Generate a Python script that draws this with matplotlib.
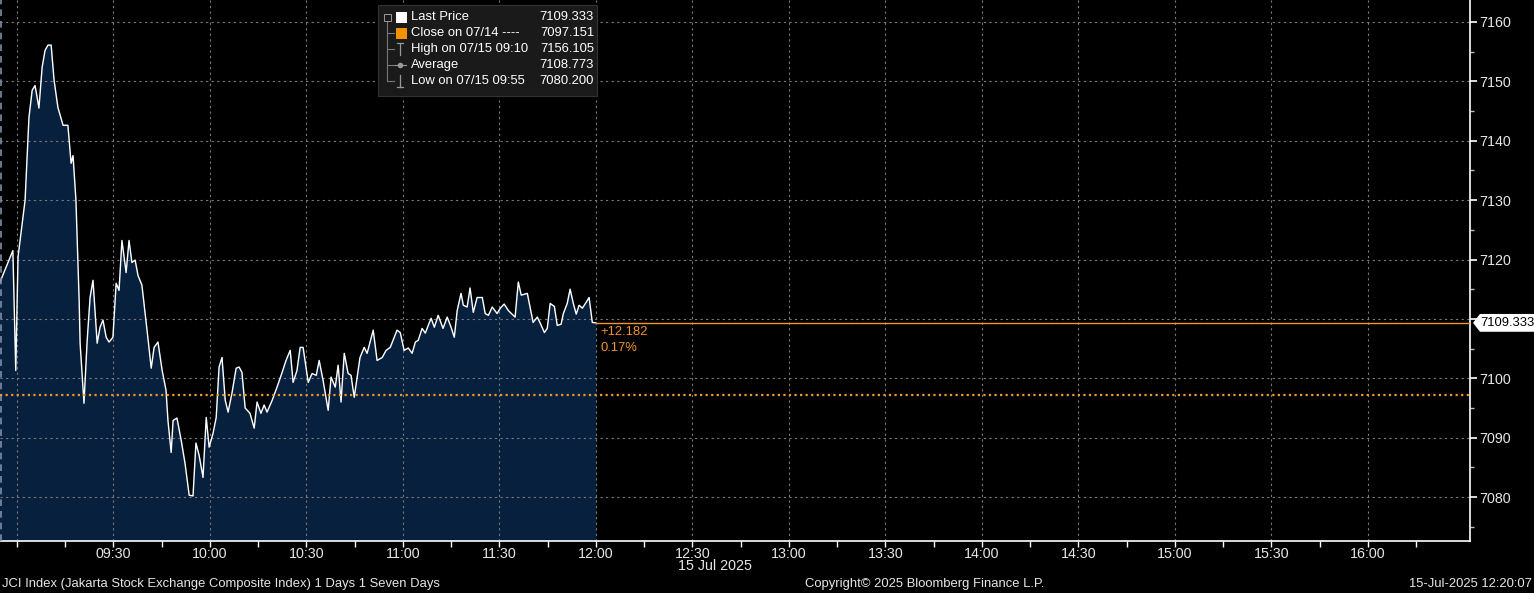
import matplotlib
matplotlib.use("Agg")
import matplotlib.pyplot as plt
from matplotlib.patches import Rectangle, Polygon

plt.rcParams['font.family'] = ['Liberation Sans', 'DejaVu Sans']

# minutes after 09:00 and JCI index level
minutes = [-5.2, -1.2, -0.3, 0.4, 2.6, 3.8, 4.8, 5.7, 6.9, 7.9, 8.8, 9.7, 10.7, 11.6, 12.8,
           14.4, 15.9, 16.9, 17.5, 18.4, 19.4, 19.7, 20.9, 21.9, 22.8, 23.7, 25.0, 25.9, 26.8,
           27.8, 28.7, 29.9, 30.9, 31.8, 32.7, 34.0, 34.9, 35.8, 36.8, 37.7, 38.9, 40.5, 41.8,
           42.7, 43.9, 45.2, 46.4, 47.0, 48.0, 48.6, 49.8, 51.1, 52.3, 53.6, 54.8, 55.7, 56.7,
           57.9, 58.9, 59.8, 61.0, 62.0, 62.9, 63.8, 64.8, 65.7, 66.9, 68.2, 69.1, 70.0, 71.0,
           72.5, 73.8, 74.7, 75.9, 76.9, 77.8, 79.4, 80.9, 82.5, 83.7, 85.0, 85.9, 87.1, 88.1,
           89.0, 90.6, 91.8, 93.1, 94.0, 95.2, 96.8, 97.7, 99.0, 99.9, 100.8, 101.8, 103.0,
           103.9, 104.9, 106.7, 108.0, 108.9, 110.8, 112.0, 113.6, 114.8, 116.1, 118.2, 119.2,
           120.4, 121.7, 122.9, 123.9, 124.8, 126.0, 127.0, 127.9, 128.8, 129.8, 131.0, 132.5,
           133.8, 135.0, 136.0, 136.9, 138.1, 138.8, 140.0, 140.9, 141.9, 143.1, 144.7, 145.6,
           146.6, 147.8, 149.3, 150.3, 151.5, 152.8, 154.9, 155.9, 156.8, 158.7, 160.5, 161.8,
           162.7, 164.0, 164.9, 165.8, 167.1, 168.0, 169.2, 169.9, 171.1, 172.0, 173.0, 173.9,
           174.8, 175.8, 177.0, 177.9, 178.9, 180.0]
prices = [7116.2, 7121.5, 7101.3, 7120.4, 7130.0, 7143.9, 7148.5, 7149.3, 7145.5, 7152.4,
          7155.2, 7156.1, 7156.1, 7150.2, 7145.6, 7142.6, 7142.6, 7136.2, 7137.5, 7130.0,
          7113.1, 7105.9, 7095.8, 7106.4, 7113.6, 7116.5, 7105.9, 7108.6, 7109.8, 7106.9,
          7106.1, 7106.9, 7116.0, 7114.8, 7123.2, 7117.8, 7123.2, 7119.5, 7119.9, 7117.3,
          7115.7, 7108.1, 7101.7, 7105.2, 7106.1, 7101.3, 7098.0, 7092.9, 7087.5, 7092.9,
          7093.3, 7089.6, 7085.7, 7080.3, 7080.2, 7089.1, 7087.0, 7083.3, 7093.4, 7088.4,
          7090.7, 7093.4, 7101.9, 7103.5, 7096.3, 7094.3, 7097.5, 7101.7, 7101.9, 7101.0,
          7095.0, 7094.1, 7091.6, 7096.0, 7094.1, 7095.5, 7094.3, 7096.3, 7098.5, 7101.0,
          7103.0, 7104.7, 7099.3, 7101.3, 7105.2, 7105.2, 7099.3, 7100.8, 7100.5, 7103.0,
          7099.7, 7094.6, 7100.2, 7098.5, 7102.2, 7096.0, 7104.2, 7100.8, 7100.5, 7096.8,
          7103.5, 7105.2, 7104.2, 7108.1, 7103.0, 7103.5, 7104.7, 7105.2, 7108.1, 7107.7,
          7104.7, 7105.1, 7104.2, 7106.1, 7106.4, 7108.4, 7107.6, 7108.9, 7110.1, 7108.6,
          7110.6, 7108.4, 7110.3, 7108.6, 7106.9, 7111.4, 7114.3, 7112.3, 7112.0, 7115.2,
          7111.1, 7113.6, 7113.6, 7110.9, 7110.6, 7112.0, 7110.9, 7111.8, 7112.5, 7111.4,
          7110.3, 7116.2, 7114.0, 7114.3, 7109.4, 7110.3, 7109.3, 7107.7, 7108.4, 7112.6,
          7112.1, 7108.9, 7109.1, 7110.9, 7112.6, 7115.0, 7112.6, 7110.8, 7112.3, 7111.8,
          7112.8, 7113.6, 7109.4, 7109.333]

last_price = 7109.333
prev_close = 7097.151
change = "+12.182"
change_pct = "0.17%"

y_ticks = [7080, 7090, 7100, 7110, 7120, 7130, 7140, 7150, 7160]
y_labels = ["7080", "7090", "7100", "", "7120", "7130", "7140", "7150", "7160"]
x_ticks = [30 * i for i in range(15)]
x_labels = ["", "09:30", "10:00", "10:30", "11:00", "11:30", "12:00", "12:30", "13:00",
            "13:30", "14:00", "14:30", "15:00", "15:30", "16:00"]

legend_rows = [("Last Price", "7109.333"), ("Close on 07/14 ----", "7097.151"),
               ("High on 07/15 09:10", "7156.105"), ("Average", "7108.773"),
               ("Low on 07/15 09:55", "7080.200")]

ORANGE = "#f0962a"
GRID = "#7a7a7a"
FS = 10.3
FS_SMALL = 9.4

fig = plt.figure(figsize=(15.34, 5.93), dpi=100, facecolor="black")
ax = fig.add_axes([0.0, 1 - 541 / 593, 1470 / 1534, 541 / 593])
ax.set_facecolor("black")

x0, x1 = -5.2, 451.7
ax.set_xlim(x0, x1)
ax.set_ylim(7072.6, 7163.7)

ax.fill_between(minutes, prices, 7000, color="#07203d", zorder=1)
ax.plot(minutes, prices, color="white", lw=1.0, zorder=3)

# grid
for yt in y_ticks:
    ax.axhline(yt, color=GRID, lw=0.8, ls=(0, (2, 3)), zorder=2)
for xt in x_ticks:
    ax.axvline(xt, color=GRID, lw=0.8, ls=(0, (2, 3)), zorder=2)
ax.axvline(x0 + 0.3, color="#7d8ea8", lw=1.2, ls=(0, (4, 3)), zorder=4)

# close and last price lines
ax.axhline(prev_close, color=ORANGE, lw=1.6, ls=(0, (1, 1.5)), zorder=4)
ax.plot([minutes[-1], x1], [last_price, last_price], color=ORANGE, lw=1.0, zorder=4)
ax.text(minutes[-1] + 1.5, last_price - 0.6, change, color=ORANGE, fontsize=FS_SMALL, va="top")
ax.text(minutes[-1] + 1.5, last_price - 3.3, change_pct, color=ORANGE, fontsize=FS_SMALL, va="top")

# axes styling
for s in ["left", "top"]:
    ax.spines[s].set_visible(False)
for s in ["right", "bottom"]:
    ax.spines[s].set_color("white")
    ax.spines[s].set_linewidth(1.2)

ax.yaxis.tick_right()
ax.set_yticks(y_ticks)
ax.set_yticklabels(y_labels)
ax.set_yticks([7075 + 10 * i for i in range(9)], minor=True)
ax.tick_params(axis="y", which="major", colors="white", labelcolor="#e6e6e6",
               labelsize=FS, length=5, width=1.2, pad=2)
ax.tick_params(axis="y", which="minor", colors="#bbbbbb", length=3, width=1)

ax.set_xticks(x_ticks)
ax.set_xticklabels(x_labels)
ax.set_xticks([15 + 30 * i for i in range(15)], minor=True)
ax.tick_params(axis="x", which="both", colors="white", labelcolor="#e6e6e6",
               labelsize=FS, length=4, width=1, pad=0)

# last price tag on the right axis
tag_y = last_price
trans = ax.get_yaxis_transform()
tag = Polygon([[1.0 + 3 / 1470, tag_y], [1.0 + 10 / 1470, tag_y + 1.5],
               [1.0 + 64 / 1470, tag_y + 1.5], [1.0 + 64 / 1470, tag_y - 1.5],
               [1.0 + 10 / 1470, tag_y - 1.5]], closed=True, transform=trans,
              facecolor="white", edgecolor="none", clip_on=False, zorder=6)
ax.add_patch(tag)
ax.text(1.0 + 37 / 1470, tag_y, f"{last_price:.3f}", transform=trans, color="black",
        fontsize=FS_SMALL, ha="center", va="center", clip_on=False, zorder=7)

# legend box
lx0, ly0, lw, lh = 378, 5, 219, 91
fig.patches.append(Rectangle((lx0 / 1534, 1 - (ly0 + lh) / 593), lw / 1534, lh / 593,
                             transform=fig.transFigure, facecolor="#1a1a1a",
                             edgecolor="#333333", lw=0.8, zorder=10))
row_y = [17, 33, 49, 65, 81]
for (name, val), ry in zip(legend_rows, row_y):
    fy = 1 - ry / 593
    fig.text(411 / 1534, fy, name, color="white", fontsize=FS_SMALL, va="center", zorder=11)
    fig.text(594 / 1534, fy, val, color="white", fontsize=FS_SMALL, va="center", ha="right", zorder=11)
fig.patches.append(Rectangle((396 / 1534, 1 - 23 / 593), 11 / 1534, 11 / 593,
                             transform=fig.transFigure, facecolor="white", zorder=11))
fig.patches.append(Rectangle((396 / 1534, 1 - 39 / 593), 11 / 1534, 11 / 593,
                             transform=fig.transFigure, facecolor="#f39200", zorder=11))
# tree lines
fig.lines.append(plt.Line2D([387 / 1534, 387 / 1534], [1 - 20 / 593, 1 - 81 / 593],
                            transform=fig.transFigure, color="#777777", lw=0.8, zorder=11))
for ry in row_y[1:]:
    fig.lines.append(plt.Line2D([387 / 1534, 394 / 1534], [1 - ry / 593, 1 - ry / 593],
                                transform=fig.transFigure, color="#777777", lw=0.8, zorder=11))
fig.patches.append(Rectangle((383.5 / 1534, 1 - 21 / 593), 7 / 1534, 7 / 593,
                             transform=fig.transFigure, facecolor="#1a1a1a",
                             edgecolor="#999999", lw=0.7, zorder=12))
for ry, cap in ((49, 43), (81, 87)):
    fig.lines.append(plt.Line2D([400 / 1534, 400 / 1534], [1 - (ry - 6) / 593, 1 - (ry + 6) / 593],
                                transform=fig.transFigure, color="#999999", lw=0.9, zorder=11))
    fig.lines.append(plt.Line2D([397 / 1534, 403 / 1534], [1 - cap / 593] * 2,
                                transform=fig.transFigure, color="#999999", lw=0.9, zorder=11))
fig.lines.append(plt.Line2D([395 / 1534, 406 / 1534], [1 - 65 / 593] * 2,
                            transform=fig.transFigure, color="#999999", lw=0.8, zorder=11))
fig.lines.append(plt.Line2D([400 / 1534], [1 - 65 / 593], transform=fig.transFigure,
                            marker="o", ms=3, color="#999999", zorder=12))

# date and footer
fig.text(715 / 1534, 1 - 566 / 593, "15 Jul 2025", color="#e6e6e6", fontsize=FS,
         ha="center", va="center")
fig.text(2 / 1534, 1 - 584 / 593, "JCI Index (Jakarta Stock Exchange Composite Index) 1 Days 1 Seven Days",
         color="#e6e6e6", fontsize=FS_SMALL, ha="left", va="center")
fig.text(925 / 1534, 1 - 584 / 593, "Copyright\u00a9 2025 Bloomberg Finance L.P.",
         color="#e6e6e6", fontsize=FS_SMALL, ha="center", va="center")
fig.text(1532 / 1534, 1 - 584 / 593, "15-Jul-2025 12:20:07", color="#e6e6e6", fontsize=FS_SMALL,
         ha="right", va="center")

fig.savefig("out.png", dpi=100, facecolor="black")
